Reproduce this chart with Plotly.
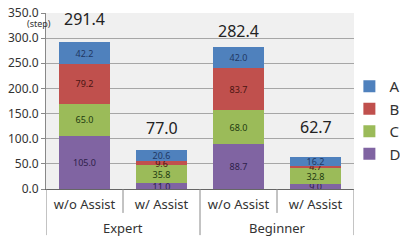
import plotly.graph_objects as go

groups = ["Expert", "Expert", "Beginner", "Beginner"]
conditions = ["w/o Assist", "w/ Assist", "w/o Assist", "w/ Assist"]
series_names = ["D", "C", "B", "A"]
values_D = [105.0, 11.0, 88.7, 9.0]
values_C = [65.0, 35.8, 68.0, 32.8]
values_B = [79.2, 9.6, 83.7, 4.7]
values_A = [42.2, 20.6, 42.0, 16.2]
totals = [291.4, 77.0, 282.4, 62.7]
y_ticks = [0, 50, 100, 150, 200, 250, 300, 350]

fill_colors = {"A": "#4f81bd", "B": "#c0504d", "C": "#9bbb59", "D": "#8064a2"}
text_colors = {"A": "#1f3864", "B": "#4a1412", "C": "#1e3a10", "D": "#2e1f4a"}
total_shift = [23, 22, 16, 30]

series_values = {"D": values_D, "C": values_C, "B": values_B, "A": values_A}
xpos = list(range(len(conditions)))

fig = go.Figure()
for name in series_names:
    vals = series_values[name]
    fig.add_trace(go.Bar(
        x=xpos, y=vals, name=name, width=0.66,
        marker=dict(color=fill_colors[name], line=dict(width=0)),
        text=[f"{v:.1f}" for v in vals],
        textposition="inside", insidetextanchor="middle", textangle=0,
        textfont=dict(size=9, color=text_colors[name], family="Noto Sans"),
        constraintext="none",
        hoverinfo="skip",
    ))

for i, t in enumerate(totals):
    fig.add_annotation(
        x=xpos[i], y=t, text=f"{t:.1f}", showarrow=False,
        yanchor="middle", yshift=total_shift[i],
        font=dict(size=16, color="#222222", family="Noto Sans"),
    )

# group labels and dividers
group_order = []
for g in groups:
    if g not in group_order:
        group_order.append(g)
for g in group_order:
    idx = [i for i, gg in enumerate(groups) if gg == g]
    fig.add_annotation(
        x=sum(idx) / len(idx), xref="x", y=-0.222, yref="paper", yanchor="middle",
        text=g, showarrow=False, font=dict(size=13, color="#333333", family="Noto Sans"),
    )

for i in range(len(conditions) + 1):
    b = i - 0.5
    full = i == 0 or i == len(conditions) or groups[i] != groups[i - 1]
    fig.add_shape(type="line", xref="x", yref="paper", x0=b, x1=b, y0=0,
                  y1=-0.262 if full else -0.136,
                  line=dict(color="#888888", width=1))

fig.add_annotation(
    xref="paper", yref="paper", x=-0.068, y=0.943, yanchor="middle", text="(step)",
    showarrow=False, font=dict(size=9, color="#333333", family="Noto Sans"),
)

fig.update_layout(
    width=400, height=241,
    margin=dict(l=46, r=46, t=13, b=52, autoexpand=False),
    barmode="stack",
    paper_bgcolor="white", plot_bgcolor="#f0f0f0",
    font=dict(family="Noto Sans", size=12, color="#333333"),
    uniformtext=dict(minsize=9, mode="show"),
    showlegend=True,
    legend=dict(traceorder="reversed", x=0.985, y=0.392, yanchor="middle", xanchor="left",
                font=dict(size=15, color="#333333"), itemwidth=30, bgcolor="rgba(0,0,0,0)"),
)
fig.update_yaxes(
    range=[0, 350], tickvals=y_ticks, tickformat=".1f", automargin=False,
    showgrid=True, gridcolor="#a6a6a6", gridwidth=1,
    showline=True, linecolor="#888888", linewidth=1,
    ticks="outside", ticklen=4, tickcolor="#888888",
    tickfont=dict(size=12, color="#333333"), zeroline=False,
)
fig.update_xaxes(
    range=[-0.5, len(conditions) - 0.5], automargin=False,
    tickvals=xpos, ticktext=conditions, ticks="", showgrid=False, zeroline=False,
    showline=True, linecolor="#666666", linewidth=1,
    ticklabelstandoff=3,
    tickfont=dict(size=13, color="#333333"),
)

fig.write_html("out.html", config={"displayModeBar": False},
               post_script="document.body.style.margin='0';")
